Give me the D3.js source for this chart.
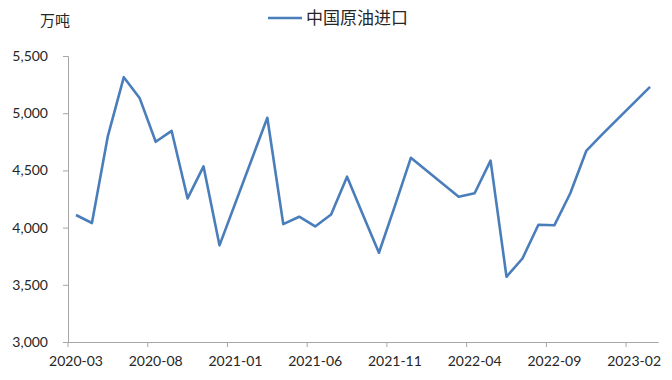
<!DOCTYPE html>
<html>
<head>
<meta charset="utf-8">
<script src="https://cdn.jsdelivr.net/npm/d3@7/dist/d3.min.js"></script>
<style>
  body { margin: 0; background: #fff; }
  svg text { font-family: Lato, "Open Sans", sans-serif; }
  .cjk { font-family: "Noto Sans CJK SC", sans-serif; }
</style>
</head>
<body>
<svg id="chart" width="672" height="380"></svg>
<script>
// monthly imports, 10k tonnes (Jan/Feb reported combined, so skipped)
const months = ["2020-03","2020-04","2020-05","2020-06","2020-07","2020-08","2020-09","2020-10","2020-11","2020-12",
  "2021-03","2021-04","2021-05","2021-06","2021-07","2021-08","2021-09","2021-10","2021-11","2021-12",
  "2022-03","2022-04","2022-05","2022-06","2022-07","2022-08","2022-09","2022-10","2022-11","2022-12",
  "2023-03"];
const imports = [4110, 4040, 4800, 5315, 5130, 4750, 4845, 4255, 4535, 3845,
  4960, 4030, 4095, 4010, 4115, 4445, 4110, 3780, 4190, 4610,
  4270, 4300, 4585, 3570, 3730, 4025, 4020, 4300, 4670, 4815,
  5230];
const xTickLabels = ["2020-03","2020-08","2021-01","2021-06","2021-11","2022-04","2022-09","2023-02"];
const yTicks = [3000, 3500, 4000, 4500, 5000, 5500];
const seriesName = "中国原油进口";
const unitLabel = "万吨";

const margin = { top: 56, right: 14, bottom: 38, left: 68 };
const width = 672 - margin.left - margin.right,
  height = 380 - margin.top - margin.bottom;

const parse = d3.timeParse("%Y-%m");
const fmt = d3.timeFormat("%Y-%m");
// date axis: every month gets equal width, ticks at month start
const allMonths = d3.timeMonths(parse("2020-03"), d3.timeMonth.offset(parse("2023-03"), 1)).map(fmt);

const svg = d3.select("#chart");
const g = svg.append("g").attr("transform", "translate(" + margin.left + "," + margin.top + ")");

const x = d3.scaleBand().domain(allMonths).range([0, width]).padding(0);
const y = d3.scaleLinear().domain([3000, 5500]).range([height, 0]);

// y axis
const yAxis = g.append("g")
  .call(d3.axisLeft(y).tickValues(yTicks).tickSize(5).tickPadding(15).tickFormat(d3.format(",")));
yAxis.select(".domain").attr("stroke", "#a6a6a6");
yAxis.selectAll(".tick line").attr("stroke", "#a6a6a6");
yAxis.selectAll("text").attr("fill", "#262626").style("font-size", "14px");

// x axis
const xAxis = g.append("g")
  .attr("transform", "translate(0," + height + ")")
  .call(d3.axisBottom(x).tickValues(xTickLabels).tickSize(5).tickPadding(9).tickSizeOuter(0));
xAxis.select(".domain").attr("stroke", "#a6a6a6");
xAxis.selectAll(".tick line")
  .attr("stroke", "#a6a6a6")
  .attr("x1", -x.bandwidth() / 2).attr("x2", -x.bandwidth() / 2);
xAxis.selectAll("text").attr("fill", "#262626").style("font-size", "14px");

// line
const data = months.map((m, i) => ({ m: m, v: imports[i] }));
const line = d3.line()
  .x(d => x(d.m) + x.bandwidth() / 2)
  .y(d => y(d.v));
g.append("path")
  .datum(data)
  .attr("fill", "none")
  .attr("stroke", "#4a7ebb")
  .attr("stroke-width", 2.6)
  .attr("stroke-linejoin", "round")
  .attr("d", line);

// unit label
svg.append("text")
  .attr("class", "cjk")
  .attr("x", 40).attr("y", 26)
  .attr("fill", "#262626")
  .style("font-size", "15px")
  .text(unitLabel);

// legend
const legend = svg.append("g").attr("transform", "translate(268,18)");
legend.append("line")
  .attr("x1", 0).attr("x2", 34).attr("y1", 0).attr("y2", 0)
  .attr("stroke", "#4a7ebb").attr("stroke-width", 2.6);
legend.append("text")
  .attr("class", "cjk")
  .attr("x", 38).attr("y", 6)
  .attr("fill", "#262626")
  .style("font-size", "17px")
  .text(seriesName);
</script>
</body>
</html>
